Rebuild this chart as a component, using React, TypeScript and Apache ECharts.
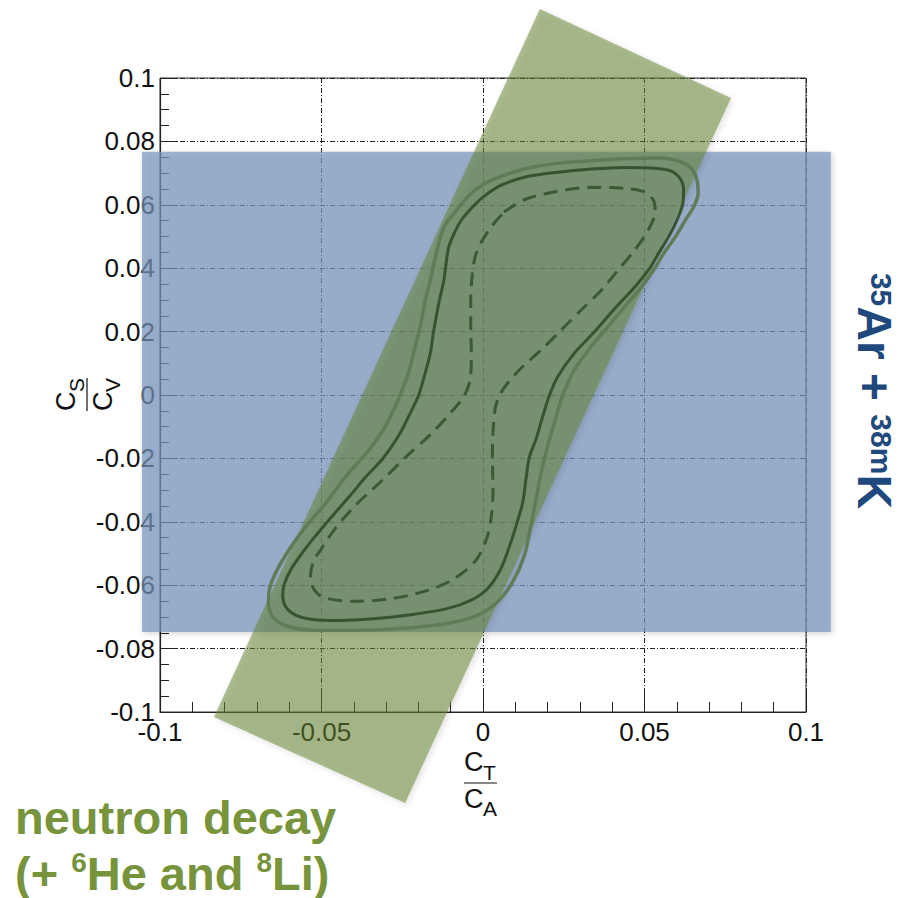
import React, { useEffect, useRef } from 'react';
import * as echarts from 'echarts';

// Axis ranges / ticks
const xRange = [-0.1, 0.1];
const yRange = [-0.1, 0.1];
const xInterval = 0.05;
const yInterval = 0.02;

// Contours (C_T/C_A, C_S/C_V)
const outerContour: [number, number][] = [
  [-0.0090, 0.0572], [-0.0038, 0.0635], [0.0024, 0.0676], [0.0128, 0.0713], [0.0232, 0.0731],
  [0.0335, 0.0739], [0.0439, 0.0745], [0.0543, 0.0748], [0.0595, 0.0741], [0.0642, 0.0718],
  [0.0663, 0.0676], [0.0666, 0.0635], [0.0652, 0.0593], [0.0626, 0.0551], [0.0595, 0.0498],
  [0.0559, 0.0446], [0.0528, 0.0394], [0.0491, 0.0341], [0.0439, 0.0279], [0.0387, 0.0216],
  [0.0335, 0.0153], [0.0283, 0.0080], [0.0258, 0.0027], [0.0242, -0.0015], [0.0221, -0.0088],
  [0.0200, -0.0161], [0.0180, -0.0245], [0.0164, -0.0329], [0.0148, -0.0413], [0.0128, -0.0507],
  [0.0091, -0.0591], [0.0045, -0.0653], [-0.0018, -0.0695], [-0.0111, -0.0721], [-0.0236, -0.0735],
  [-0.0391, -0.0742], [-0.0516, -0.0742], [-0.0599, -0.0732], [-0.0646, -0.0706], [-0.0664, -0.0664],
  [-0.0661, -0.0612], [-0.0641, -0.0559], [-0.0599, -0.0486], [-0.0547, -0.0413], [-0.0485, -0.0339],
  [-0.0423, -0.0255], [-0.0360, -0.0182], [-0.0308, -0.0109], [-0.0272, -0.0036], [-0.0246, 0.0027],
  [-0.0225, 0.0090], [-0.0210, 0.0153], [-0.0194, 0.0216], [-0.0179, 0.0299], [-0.0163, 0.0362],
  [-0.0147, 0.0436], [-0.0132, 0.0498], [-0.0116, 0.0540], [-0.0090, 0.0572],
];

const solidContour: [number, number][] = [
  [-0.0038, 0.0587], [0.0000, 0.0624], [0.0055, 0.0661], [0.0128, 0.0687], [0.0232, 0.0703],
  [0.0335, 0.0713], [0.0439, 0.0718], [0.0522, 0.0716], [0.0579, 0.0708], [0.0611, 0.0682],
  [0.0621, 0.0645], [0.0618, 0.0601], [0.0600, 0.0551], [0.0574, 0.0498], [0.0543, 0.0446],
  [0.0517, 0.0401], [0.0470, 0.0341], [0.0408, 0.0273], [0.0346, 0.0200], [0.0283, 0.0132],
  [0.0232, 0.0059], [0.0206, 0.0000], [0.0185, -0.0067], [0.0164, -0.0140], [0.0143, -0.0198],
  [0.0133, -0.0266], [0.0123, -0.0339], [0.0107, -0.0397], [0.0086, -0.0465], [0.0055, -0.0549],
  [0.0013, -0.0612], [-0.0038, -0.0648], [-0.0111, -0.0674], [-0.0236, -0.0695], [-0.0340, -0.0706],
  [-0.0443, -0.0711], [-0.0526, -0.0708], [-0.0578, -0.0695], [-0.0610, -0.0669], [-0.0620, -0.0632],
  [-0.0615, -0.0596], [-0.0594, -0.0549], [-0.0558, -0.0496], [-0.0526, -0.0454], [-0.0475, -0.0392],
  [-0.0412, -0.0318], [-0.0360, -0.0255], [-0.0308, -0.0198], [-0.0256, -0.0119], [-0.0225, -0.0057],
  [-0.0199, 0.0000], [-0.0179, 0.0069], [-0.0163, 0.0132], [-0.0153, 0.0200], [-0.0137, 0.0289],
  [-0.0121, 0.0362], [-0.0116, 0.0401], [-0.0106, 0.0467], [-0.0085, 0.0519], [-0.0064, 0.0556],
  [-0.0038, 0.0587],
];

const dashedContour: [number, number][] = [
  [0.0065, 0.0577], [0.0128, 0.0616], [0.0232, 0.0643], [0.0335, 0.0655], [0.0439, 0.0652],
  [0.0502, 0.0640], [0.0528, 0.0614], [0.0533, 0.0577], [0.0524, 0.0546], [0.0502, 0.0504],
  [0.0465, 0.0451], [0.0418, 0.0394], [0.0367, 0.0331], [0.0304, 0.0268], [0.0242, 0.0205],
  [0.0180, 0.0142], [0.0123, 0.0090], [0.0081, 0.0043], [0.0055, 0.0006], [0.0039, -0.0036],
  [0.0032, -0.0098], [0.0029, -0.0193], [0.0031, -0.0297], [0.0026, -0.0381], [0.0011, -0.0454],
  [-0.0023, -0.0523], [-0.0090, -0.0580], [-0.0173, -0.0617], [-0.0288, -0.0643], [-0.0402, -0.0651],
  [-0.0495, -0.0638], [-0.0524, -0.0612], [-0.0534, -0.0570], [-0.0524, -0.0523], [-0.0501, -0.0486],
  [-0.0459, -0.0423], [-0.0397, -0.0350], [-0.0319, -0.0276], [-0.0236, -0.0193], [-0.0163, -0.0125],
  [-0.0101, -0.0057], [-0.0059, -0.0004], [-0.0040, 0.0048], [-0.0036, 0.0132], [-0.0038, 0.0216],
  [-0.0038, 0.0299], [-0.0033, 0.0383], [-0.0023, 0.0441], [-0.0002, 0.0488], [0.0029, 0.0535],
  [0.0065, 0.0577],
];

// Constraint bands (corners in data units)
const blueBand: [number, number][] = [
  [-0.1056, -0.0748], [0.1077, -0.0748], [0.1077, 0.0767], [-0.1056, 0.0767],
];
const greenBand: [number, number][] = [
  [0.0176, 0.1218], [0.0768, 0.0937], [-0.0241, -0.1287], [-0.0833, -0.1016],
];

const FONT = '"Liberation Sans", Arial, Helvetica, sans-serif';
const fmt = (v: number) => String(+v.toFixed(3));

function fraction(cx: number, cy: number, rot: number, numSub: string, denSub: string) {
  const main = { fontSize: 27, fontFamily: FONT, fill: '#111' };
  const sub = { fontSize: 21, fontFamily: FONT, fill: '#111' };
  const al = { align: 'left', textAlign: 'left', verticalAlign: 'middle', textVerticalAlign: 'middle' };
  return {
    type: 'group',
    x: cx,
    y: cy,
    rotation: rot,
    children: [
      { type: 'text', x: -17, y: -21, style: { text: 'C', ...main, ...al } },
      { type: 'text', x: 2, y: -11, style: { text: numSub, ...sub, ...al } },
      { type: 'line', shape: { x1: -17, y1: 0, x2: 16, y2: 0 }, style: { stroke: '#111', lineWidth: 1.2 } },
      { type: 'text', x: -17, y: 16, style: { text: 'C', ...main, ...al } },
      { type: 'text', x: 2, y: 25, style: { text: denSub, ...sub, ...al } },
    ],
  };
}

function bandSeries(corners: [number, number][], fill: string, z: number) {
  return {
    type: 'custom',
    z,
    clip: false,
    silent: true,
    data: corners,
    encode: { x: 0, y: 1 },
    renderItem: (params: any, api: any) => {
      if (params.dataIndex !== 0) return null;
      const pts = corners.map((c) => api.coord(c));
      return {
        type: 'polygon',
        shape: { points: pts },
        style: {
          fill,
          shadowBlur: 6,
          shadowColor: 'rgba(0,0,0,0.22)',
          shadowOffsetX: 2,
          shadowOffsetY: 2,
        },
      };
    },
  };
}

function contourSeries(data: [number, number][], color: string, width: number, type: any, z: number) {
  return {
    type: 'line',
    data,
    z,
    clip: false,
    smooth: 0.3,
    showSymbol: false,
    symbol: 'none',
    silent: true,
    lineStyle: { color, width, type },
  };
}

export default function App() {
  const ref = useRef<HTMLDivElement>(null);
  useEffect(() => {
    if (!ref.current) return;
    const chart = echarts.init(ref.current, undefined, { renderer: 'svg' });
    const axisLabel = { color: '#111', fontSize: 26, fontFamily: FONT, formatter: fmt };
    const splitLine = { show: true, lineStyle: { color: '#222', width: 1, type: [5, 2, 1, 2] } };
    chart.setOption({
      animation: false,
      backgroundColor: '#fff',
      grid: {
        left: 160, top: 78, width: 646, height: 634,
        show: true, borderColor: '#333', borderWidth: 1, backgroundColor: 'transparent',
      },
      xAxis: {
        type: 'value', min: xRange[0], max: xRange[1], interval: xInterval,
        axisLine: { show: true, onZero: false, lineStyle: { color: '#222', width: 1.2 } },
        axisTick: { show: true, inside: true, length: 22, lineStyle: { color: '#222' } },
        minorTick: { show: true, splitNumber: 5, length: 10, lineStyle: { color: '#222' } },
        axisLabel: { ...axisLabel, margin: 7 },
        splitLine,
      },
      yAxis: {
        type: 'value', min: yRange[0], max: yRange[1], interval: yInterval,
        axisLine: { show: true, onZero: false, lineStyle: { color: '#222', width: 1.2 } },
        axisTick: { show: true, inside: true, length: 18, lineStyle: { color: '#222' } },
        minorTick: { show: true, splitNumber: 4, length: 9, lineStyle: { color: '#222' } },
        axisLabel: { ...axisLabel, margin: 5 },
        splitLine,
      },
      series: [
        bandSeries(blueBand, 'rgba(118,148,188,0.7)', 3),
        bandSeries(greenBand, 'rgba(100,130,50,0.52)', 4),
        contourSeries(outerContour, '#5F7C57', 3.5, 'solid', 5),
        contourSeries(solidContour, '#37532F', 3, 'solid', 6),
        contourSeries(dashedContour, '#3C5834', 3, [14, 8], 6),
      ],
      graphic: [
        fraction(481, 783, 0, 'T', 'A'),
        fraction(87, 394, Math.PI / 2, 'S', 'V'),
        {
          type: 'text',
          x: 874,
          y: 391,
          rotation: -Math.PI / 2,
          style: {
            text: '{s|35}{b|Ar + }{s|38m}{b|K}',
            align: 'center', textAlign: 'center', verticalAlign: 'middle', textVerticalAlign: 'middle',
            rich: {
              b: { fontSize: 48, fontWeight: 'bold', fontFamily: FONT, fill: '#1F497D', color: '#1F497D', lineHeight: 44, verticalAlign: 'middle' },
              s: { fontSize: 30, fontWeight: 'bold', fontFamily: FONT, fill: '#1F497D', color: '#1F497D', lineHeight: 30, verticalAlign: 'top' },
            },
          },
        },
        {
          type: 'text',
          x: 15,
          y: 817,
          style: {
            text: 'neutron decay',
            fontSize: 47, fontWeight: 'bold', fontFamily: FONT, fill: '#77933C',
            align: 'left', textAlign: 'left', verticalAlign: 'middle', textVerticalAlign: 'middle',
          },
        },
        {
          type: 'text',
          x: 15,
          y: 873,
          style: {
            text: '{b|(+ }{s|6}{b|He and }{s|8}{b|Li)}',
            align: 'left', textAlign: 'left', verticalAlign: 'middle', textVerticalAlign: 'middle',
            rich: {
              b: { fontSize: 47, fontWeight: 'bold', fontFamily: FONT, fill: '#77933C', color: '#77933C', lineHeight: 50, verticalAlign: 'middle' },
              s: { fontSize: 28, fontWeight: 'bold', fontFamily: FONT, fill: '#77933C', color: '#77933C', lineHeight: 30, verticalAlign: 'top' },
            },
          },
        },
      ],
    });
    return () => chart.dispose();
  }, []);
  return (
    <div
      ref={ref}
      style={{ position: 'fixed', left: 0, top: 0, width: 904, height: 898, background: '#fff' }}
    />
  );
}
